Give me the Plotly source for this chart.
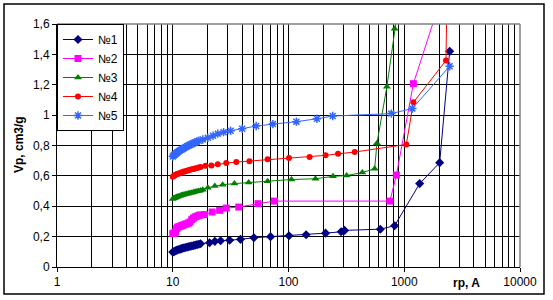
import plotly.graph_objects as go

# ---- data ----
x1 = [10.0, 10.2, 10.4, 10.6, 10.8, 11.0, 11.3, 11.6, 11.9, 12.2, 12.5, 12.9, 13.3, 13.7, 14.1, 14.6,
      15.1, 15.6, 16.2, 16.8, 17.4, 20.8, 23.1, 25.9, 31, 38.5, 50.2, 70, 101, 142, 209, 285, 305,
      621, 826, 1359, 2023, 2468]
y1 = [0.098, 0.100, 0.104, 0.107, 0.110, 0.112, 0.115, 0.118, 0.121, 0.123, 0.126, 0.128, 0.131,
      0.133, 0.136, 0.138, 0.141, 0.144, 0.147, 0.150, 0.153, 0.160, 0.169, 0.173, 0.176, 0.182,
      0.193, 0.200, 0.206, 0.212, 0.223, 0.232, 0.241, 0.249, 0.272, 0.549, 0.687, 1.42]

x2 = [10.0, 10.2, 10.4, 10.6, 10.8, 11.0, 11.3, 11.6, 11.9, 12.2, 12.5, 12.9, 13.3, 13.7, 14.1, 14.6,
      15.1, 15.6, 16.2, 16.8, 17.4, 18.8, 21.9, 25.4, 29, 37.2, 54.6, 75.6, 752, 855, 1199, 2140]
y2 = [0.220, 0.222, 0.226, 0.232, 0.252, 0.262, 0.265, 0.268, 0.272, 0.275, 0.278, 0.282, 0.285,
      0.290, 0.296, 0.312, 0.322, 0.330, 0.334, 0.340, 0.343, 0.345, 0.362, 0.373, 0.388, 0.395,
      0.417, 0.434, 0.434, 0.605, 1.207, 1.80]

x3 = [10.0, 10.2, 10.4, 10.6, 10.8, 11.0, 11.3, 11.6, 11.9, 12.2, 12.5, 12.9, 13.3, 13.7, 14.1, 14.6,
      15.1, 15.6, 16.2, 16.8, 17.4, 18.2, 20.1, 23.1, 27, 34.1, 45.3, 66, 106, 171, 242, 318, 434,
      555, 581, 708, 826, 900]
y3 = [0.448, 0.452, 0.455, 0.458, 0.461, 0.463, 0.466, 0.469, 0.472, 0.474, 0.477, 0.479, 0.482,
      0.484, 0.487, 0.489, 0.492, 0.495, 0.498, 0.501, 0.504, 0.509, 0.522, 0.533, 0.542, 0.549,
      0.557, 0.564, 0.576, 0.581, 0.597, 0.602, 0.622, 0.647, 0.814, 1.187, 1.568, 1.75]

x4 = [10.0, 10.2, 10.4, 10.6, 10.8, 11.0, 11.3, 11.6, 11.9, 12.2, 12.5, 12.9, 13.3, 13.7, 14.1, 14.6,
      15.1, 15.6, 16.2, 16.8, 17.4, 19.2, 21.6, 24.5, 29, 35.4, 46, 66, 101, 152, 209, 268, 373,
      1042, 1200, 2293, 2350]
y4 = [0.595, 0.600, 0.604, 0.607, 0.610, 0.613, 0.616, 0.619, 0.622, 0.625, 0.628, 0.631, 0.634,
      0.637, 0.640, 0.643, 0.646, 0.649, 0.652, 0.655, 0.658, 0.667, 0.669, 0.676, 0.684, 0.691,
      0.697, 0.709, 0.717, 0.724, 0.735, 0.745, 0.757, 0.807, 1.084, 1.36, 1.90]

x5 = [10.0, 10.2, 10.4, 10.6, 10.8, 11.0, 11.3, 11.6, 11.9, 12.2, 12.5, 12.9, 13.3, 13.7, 14.1, 14.6,
      15.1, 15.6, 16.2, 16.8, 18.2, 20.1, 22.3, 24.5, 27.5, 31.6, 39.8, 52.6, 73.3, 117, 176, 241,
      773, 1175, 2468]
y5 = [0.728, 0.735, 0.741, 0.746, 0.751, 0.756, 0.762, 0.768, 0.773, 0.778, 0.783, 0.789, 0.795,
      0.800, 0.805, 0.810, 0.815, 0.820, 0.826, 0.831, 0.840, 0.851, 0.864, 0.878, 0.888, 0.897,
      0.910, 0.928, 0.941, 0.957, 0.976, 0.994, 1.010, 1.044, 1.322]

names = ["№1", "№2", "№3", "№4", "№5"]
colors = ["#000080", "#FF00FF", "#008000", "#FF0000", "#3366FF"]
symbols = ["diamond", "square", "triangle-up", "circle", "asterisk-open"]
sizes = [7, 7, 7, 6, 7]

x_major = [1, 10, 100, 1000, 10000]
x_major_text = ["1", "10", "100", "1000", "10000"]
x_minor = [d * 10 ** k for k in range(4) for d in range(2, 10)]
y_ticks = [0, 0.2, 0.4, 0.6, 0.8, 1.0, 1.2, 1.4, 1.6]
y_text = ["0", "0,2", "0,4", "0,6", "0,8", "1", "1,2", "1,4", "1,6"]

FONT = "Liberation Sans, Arial, sans-serif"

fig = go.Figure()
for xs, ys, nm, c, s, sz in zip([x1, x2, x3, x4, x5], [y1, y2, y3, y4, y5], names, colors, symbols, sizes):
    marker = dict(symbol=s, size=sz, color=c)
    if s.endswith("open"):
        marker["line"] = dict(color=c, width=1.5)
    fig.add_trace(go.Scatter(x=xs, y=ys, name=nm, mode="lines+markers",
                             line=dict(color=c, width=1), marker=marker))

W, H = 553, 300
L, R, T, B = 57, 33, 24, 33
pw, ph = W - L - R, H - T - B

fig.update_layout(
    width=W, height=H,
    margin=dict(l=L, r=R, t=T, b=B),
    paper_bgcolor="white", plot_bgcolor="white",
    font=dict(family=FONT, size=12, color="black"),
    showlegend=True,
    legend=dict(x=0, y=1, xanchor="left", yanchor="top",
                bgcolor="white", bordercolor="black", borderwidth=1,
                font=dict(family=FONT, size=12, color="black"),
                tracegroupgap=0, itemwidth=30),
    xaxis=dict(type="log", range=[0, 4], tickmode="array", tickvals=x_major, ticktext=x_major_text,
               showgrid=True, gridcolor="black", gridwidth=1,
               ticks="outside", ticklen=4, tickcolor="black",
               showline=True, linecolor="black", linewidth=1, zeroline=False,
               minor=dict(tickmode="array", tickvals=x_minor, showgrid=True, gridcolor="black",
                          gridwidth=1, ticks=""),
               tickfont=dict(family=FONT, size=12)),
    yaxis=dict(range=[0, 1.6], tickmode="array", tickvals=y_ticks, ticktext=y_text,
               showgrid=True, gridcolor="black", gridwidth=1,
               ticks="outside", ticklen=4, tickcolor="black",
               showline=True, linecolor="black", linewidth=1, zeroline=False,
               tickfont=dict(family=FONT, size=12)),
)

# plot-area border (gray top/right) and outer chart frame
fig.add_shape(type="line", xref="paper", yref="paper", x0=0, x1=1, y0=1, y1=1,
              line=dict(color="#808080", width=1.5))
fig.add_shape(type="line", xref="paper", yref="paper", x0=1, x1=1, y0=0, y1=1,
              line=dict(color="#808080", width=1.5))
fig.add_shape(type="rect", xref="paper", yref="paper",
              x0=(4 - L) / pw, x1=(544 - L) / pw,
              y0=(H - B - 294) / ph, y1=(H - B - 4) / ph,
              line=dict(color="black", width=1.5), layer="above")

fig.add_annotation(text="<b>rp, A</b>", xref="paper", yref="paper",
                   x=(466 - L) / pw, y=(H - B - 283) / ph, showarrow=False,
                   xanchor="center", yanchor="middle",
                   font=dict(family=FONT, size=12, color="black"))
fig.add_annotation(text="<b>Vp, cm3/g</b>", xref="paper", yref="paper",
                   x=(19 - L) / pw, y=(H - B - 145) / ph, showarrow=False, textangle=-90,
                   xanchor="center", yanchor="middle",
                   font=dict(family=FONT, size=12, color="black"))

fig.write_html("out.html", config={"displayModeBar": False},
               post_script="document.body.style.margin='0';document.body.style.overflow='hidden';")
